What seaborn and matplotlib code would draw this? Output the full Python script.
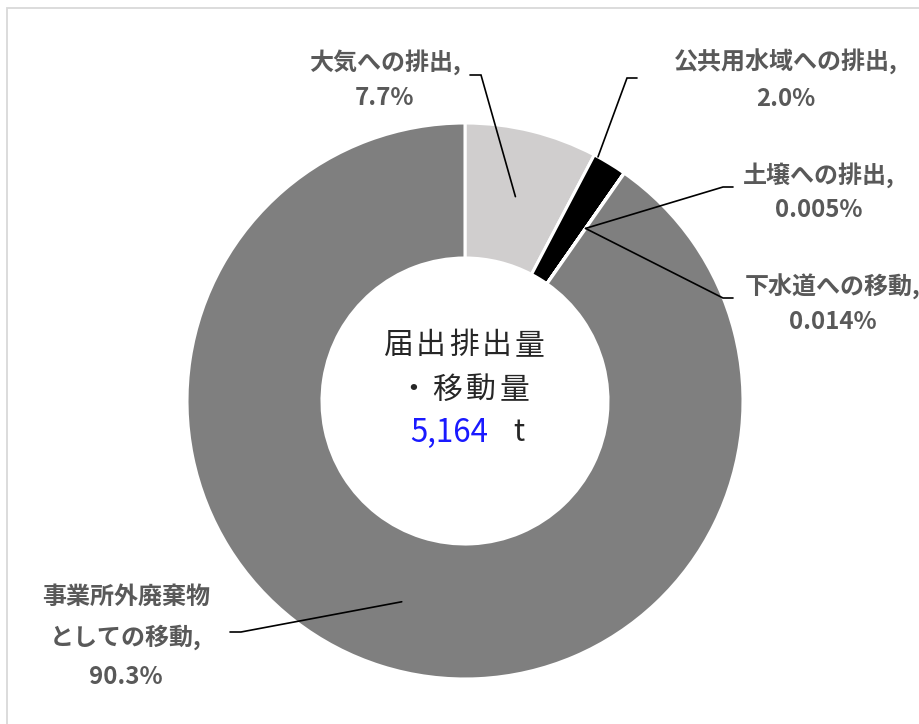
import numpy as np
import matplotlib
matplotlib.use("Agg")
import matplotlib.pyplot as plt
from matplotlib.patches import Rectangle
import seaborn as sns

# ---- data ----
categories = ["大気への排出", "公共用水域への排出", "土壌への排出", "下水道への移動", "事業所外廃棄物としての移動"]
shares = [7.7, 2.0, 0.005, 0.014, 90.3]
share_labels = ["7.7%", "2.0%", "0.005%", "0.014%", "90.3%"]
label_lines = [
    ["大気への排出,", "7.7%"],
    ["公共用水域への排出,", "2.0%"],
    ["土壌への排出,", "0.005%"],
    ["下水道への移動,", "0.014%"],
    ["事業所外廃棄物", "としての移動,", "90.3%"],
]
center_title = ["届出排出量", "・移動量"]
total_text = "5,164"
total_unit = "t"
colors = ["#d0cece", "#000000", "#7f7f7f", "#7f7f7f", "#7f7f7f"]

sns.set_theme(style="white")
plt.rcParams['font.family'] = ['Noto Sans CJK JP', 'DejaVu Sans']

W, H = 920, 724
fig = plt.figure(figsize=(W / 100, H / 100), dpi=100)
ax = fig.add_axes([0, 0, 1, 1])

def Y(py):
    return H - py

cx, cy = 465, Y(401)
R, ring = 278, 135
wedges, _ = ax.pie(shares, colors=colors, startangle=90, counterclock=False,
                   radius=R, center=(cx, cy),
                   wedgeprops=dict(width=ring, edgecolor="white", linewidth=2.2))
ax.set_xlim(0, W)
ax.set_ylim(0, H)
ax.set_aspect("equal")
ax.axis("off")

def point(angle_deg, r):
    a = np.deg2rad(angle_deg)
    return cx + r * np.cos(a), cy + r * np.sin(a)

rmid = R - ring / 2
anchors = []
for i, w in enumerate(wedges):
    mid = (w.theta1 + w.theta2) / 2
    if i == 1:
        ang = w.theta2 - 0.12 * (w.theta2 - w.theta1)
        anchors.append(point(ang, R))
    else:
        anchors.append(point(mid, rmid))

# label layout: line centers (px), elbow start, elbow end
label_pos = [
    (385, [62, 98]),
    (786, [62, 99]),
    (819, [175, 210]),
    (833, [287, 322]),
    (126, [597, 637, 677]),
]
elbows = [
    ((470, 75), (481, 75)),
    ((637, 78), (627, 78)),
    ((733, 187), (723, 187)),
    ((733, 298), (723, 298)),
    ((230, 632), (241, 632)),
]

label_color = "#595959"
for i, (x, ys) in enumerate(label_pos):
    for line, yy in zip(label_lines[i], ys):
        ax.text(x, Y(yy), line, ha="center", va="center", fontsize=17.3,
                fontweight="bold", color=label_color)
    (x0, y0), (x1, y1) = elbows[i]
    ax_, ay_ = anchors[i]
    ax.plot([x0, x1, ax_], [Y(y0), Y(y1), ay_], color="black", lw=1.2,
            solid_joinstyle="miter", zorder=5)

# center text, letter-spaced
def spaced(text, xc, yc, pitch, **kw):
    n = len(text)
    for k, ch in enumerate(text):
        ax.text(xc + (k - (n - 1) / 2) * pitch, Y(yc), ch, ha="center", va="center", **kw)

ctext = dict(fontsize=21.5, color="#262626")
spaced(center_title[0], 464, 346, 33, **ctext)
spaced(center_title[1], 464, 390, 34, **ctext)
ax.text(449, Y(433), total_text, ha="center", va="center", fontsize=22.5, color="#1a1aff")
ax.text(519, Y(433), total_unit, ha="center", va="center", fontsize=21.5, color="#262626")

# chart frame
ax.add_patch(Rectangle((7.5, -20), 960, Y(8) + 20, fill=False, ec="#d9d9d9", lw=1.3,
                       clip_on=False, zorder=0))

fig.savefig("out.png", dpi=100)
